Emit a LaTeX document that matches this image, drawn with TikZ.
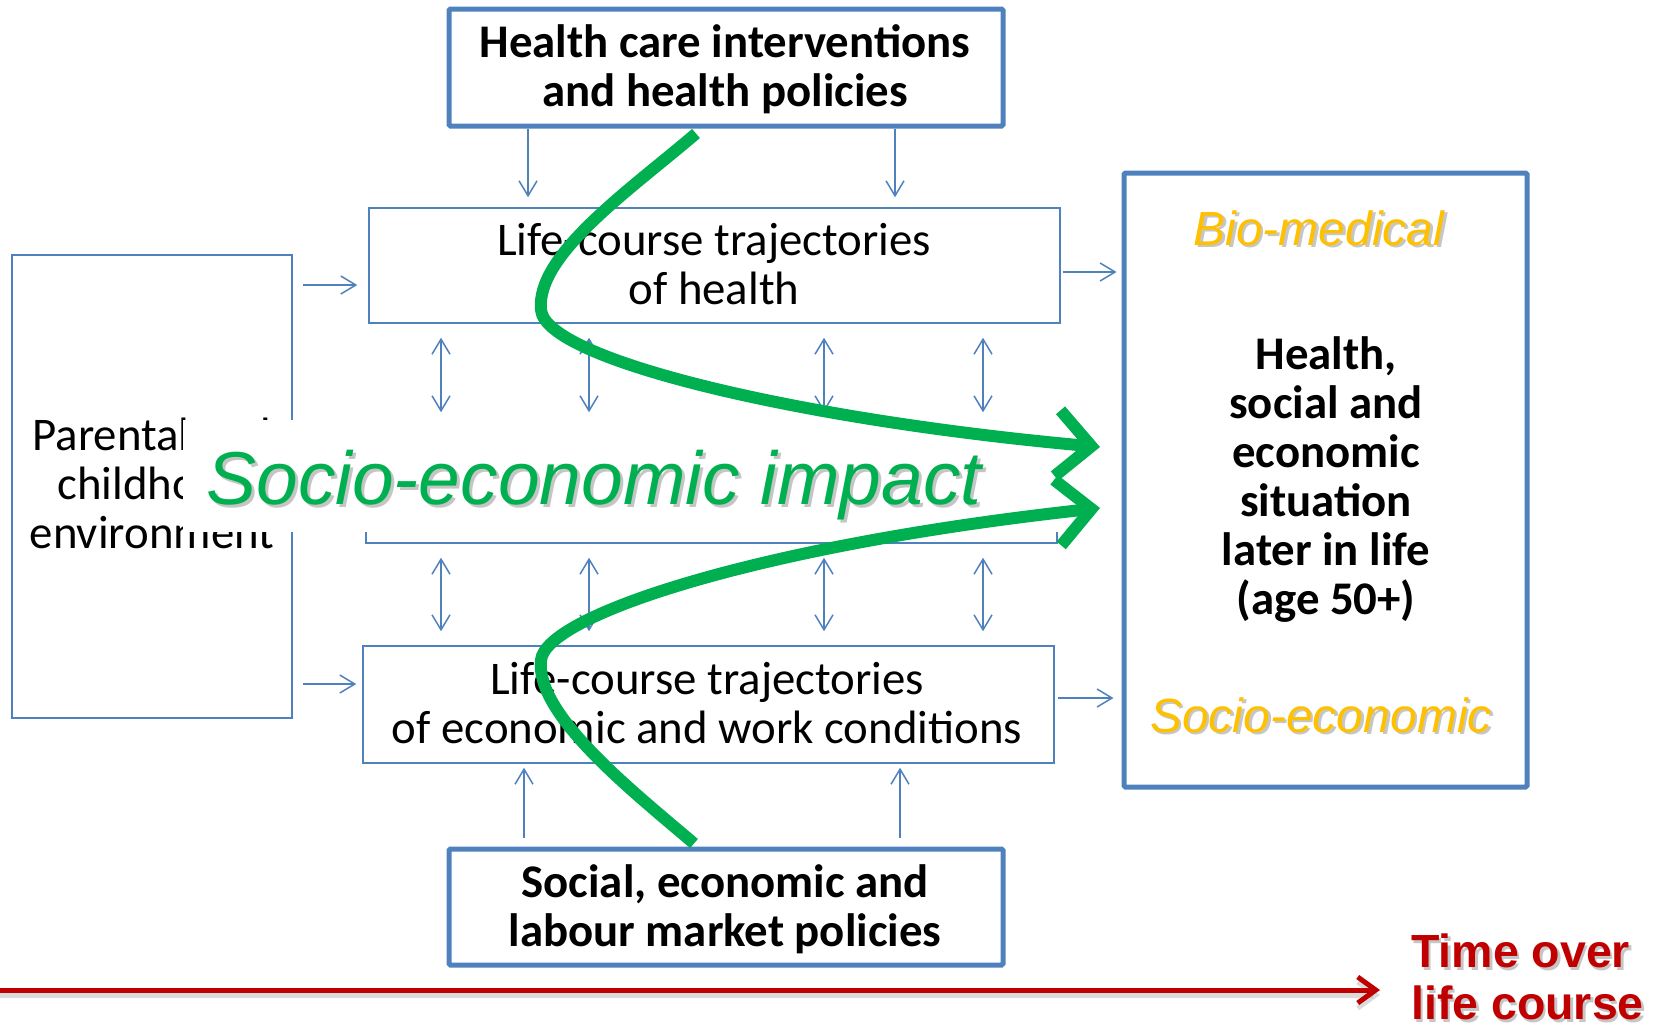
\documentclass[tikz,border=0pt]{standalone}
\usepackage{fontspec}
\setmainfont{Carlito}
\newfontfamily\arialf{Liberation Sans}
\usetikzlibrary{arrows.meta,calc}
\definecolor{boxblue}{HTML}{4F81BD}
\definecolor{impgreen}{HTML}{00B050}
\definecolor{orangetxt}{HTML}{FFC000}
\definecolor{timered}{HTML}{C00000}
\begin{document}
\begin{tikzpicture}[x=1pt,y=-1pt,
  thinbox/.style={draw=boxblue, line width=1.5pt, inner sep=0pt},
  thickbox/.style={draw=boxblue, line width=5pt, rounded corners=1.5pt, inner sep=0pt},
  conn/.style={draw=boxblue, line width=1.5pt, -{Straight Barb[length=15pt,width=18pt]}},
  dconn/.style={draw=boxblue, line width=1.5pt, {Straight Barb[length=15pt,width=18pt]}-{Straight Barb[length=15pt,width=18pt]}},
  bodyr/.style={font=\fontsize{46.8}{49}\selectfont, align=center, inner sep=0pt},
  bodyb/.style={font=\fontsize{46.8}{49}\selectfont\bfseries, align=center, inner sep=0pt},
  orangeit/.style={font=\arialf\itshape\fontsize{48}{52}\selectfont, text=orangetxt, inner sep=0pt, anchor=base},
  greenit/.style={font=\arialf\itshape\fontsize{75}{80}\selectfont, text=impgreen, inner sep=0pt, anchor=base},
  redbold/.style={font=\arialf\bfseries\fontsize{46.5}{52}\selectfont, text=timered, inner sep=0pt, align=left, anchor=north west},
  tshadow/.style={text=black!50, opacity=0.45},
  impactarrow/.style={draw=impgreen, line width=12pt, -{Straight Barb[length=34pt,width=66pt]}},
  timearrow/.style={draw=timered, line width=5pt, -{Straight Barb[length=18pt,width=26pt]}}
]
\useasboundingbox (0,0) rectangle (1664,1028);

% boxes
\node[thickbox, minimum width=554pt, minimum height=117pt] (hc) at (726,67.5) {};
\node[thinbox, minimum width=691pt, minimum height=115pt] (ht) at (714.5,265.5) {};
\node[thinbox, minimum width=691pt, minimum height=116pt] (mid) at (711.5,485) {};
\node[thinbox, minimum width=691pt, minimum height=117pt] (ec) at (708.5,704.5) {};
\node[thickbox, minimum width=554pt, minimum height=116pt] (bt) at (726,907) {};
\node[thinbox, minimum width=280pt, minimum height=463pt] (lb) at (152,486.5) {};
\node[thickbox, minimum width=403pt, minimum height=614pt] (rb) at (1325.5,480) {};

% texts
\node[bodyb] (hcText) at (725,69) {Health care interventions\\and health policies};
\node[bodyr] (htText) at (714,264) {Life-course trajectories\\of health};
\node[bodyr] (ecText) at (707,703) {Life-course trajectories\\of economic and work conditions};
\node[bodyb] (btText) at (725,909) {Social, economic and\\labour market policies};
\node[bodyr] (lbText) at (152,483) {Parental and\\childhood\\environment};
\node[bodyb] (rbText) at (1326,480) {Health,\\social and\\economic\\situation\\later in life\\(age 50+)};

\node[orangeit, tshadow] (bioS) at (1321.5,247.5) {Bio-medical};
\node[orangeit] (bio) at (1319,245) {Bio-medical};
\node[orangeit, tshadow] (soceS) at (1323.5,734.5) {Socio-economic};
\node[orangeit] (soce) at (1321,732) {Socio-economic};

% x / y guide coordinates
\coordinate (xa) at (528,0);
\coordinate (xb) at (895,0);
\coordinate (xc) at (524,0);
\coordinate (xd) at (900,0);
\coordinate (d1) at (441,0);
\coordinate (d2) at (589,0);
\coordinate (d3) at (824,0);
\coordinate (d4) at (983,0);
\coordinate (ya) at (0,285);
\coordinate (yb) at (0,684);
\coordinate (yc) at (0,272);
\coordinate (yd) at (0,698);

% blue connectors
\draw[conn] (hc.south -| xa) -- ($(ht.north -| xa)+(0,-10)$);
\draw[conn] (hc.south -| xb) -- ($(ht.north -| xb)+(0,-10)$);
\draw[conn] ($(bt.north -| xc)+(0,-9)$) -- ($(ec.south -| xc)+(0,4)$);
\draw[conn] ($(bt.north -| xd)+(0,-9)$) -- ($(ec.south -| xd)+(0,4)$);
\foreach \c in {d1,d2,d3,d4}{
  \draw[dconn] ($(ht.south -| \c)+(0,14)$) -- ($(mid.north -| \c)+(0,-14)$);
  \draw[dconn] ($(mid.south -| \c)+(0,14)$) -- ($(ec.north -| \c)+(0,-14)$);
}
\draw[conn] ($(lb.east |- ya)+(10,0)$) -- ($(ht.west |- ya)+(-11,0)$);
\draw[conn] ($(lb.east |- yb)+(10,0)$) -- ($(ec.west |- yb)+(-6,0)$);
\draw[conn] ($(ht.east |- yc)+(2,0)$) -- ($(rb.west |- yc)+(-5,0)$);
\draw[conn] ($(ec.east |- yd)+(3,0)$) -- ($(rb.west |- yd)+(-8,0)$);

% white band behind the impact label
\node[fill=white, inner sep=0pt, minimum width=935pt, minimum height=112pt] (impactbg) at (650.5,476) {};

% green impact curves
\coordinate (tipA) at (1100,447);
\coordinate (tipB) at (1100,508);
\draw[impactarrow] ($(hc.south)+(-30,5)$) .. controls (630,190) and (535.5,255) .. (541,310)
   .. controls (546,360) and (800,420) .. (tipA);
\draw[impactarrow] ($(bt.north)+(-32,-3)$) .. controls (630,789) and (535,714) .. (541,660)
   .. controls (546,615) and (760,545) .. (tipB);

\node[greenit, tshadow] (impS) at (597,507) {Socio-economic impact};
\node[greenit] (imp) at (594,504) {Socio-economic impact};

% time axis
\coordinate (t0) at (0,990);
\coordinate (t1) at (1380,990);
\coordinate (t0s) at (0,995);
\coordinate (t1s) at (1380,995);
\draw[line width=5pt, draw=black!40, opacity=0.35, -{Straight Barb[length=18pt,width=26pt]}] (t0s) -- (t1s);
\draw[timearrow] (t0) -- (t1);
\node[redbold, tshadow] (timeS) at (1413.5,936.5) {Time over\\life course};
\node[redbold] (time) at (1411,934) {Time over\\life course};
\end{tikzpicture}
\end{document}
